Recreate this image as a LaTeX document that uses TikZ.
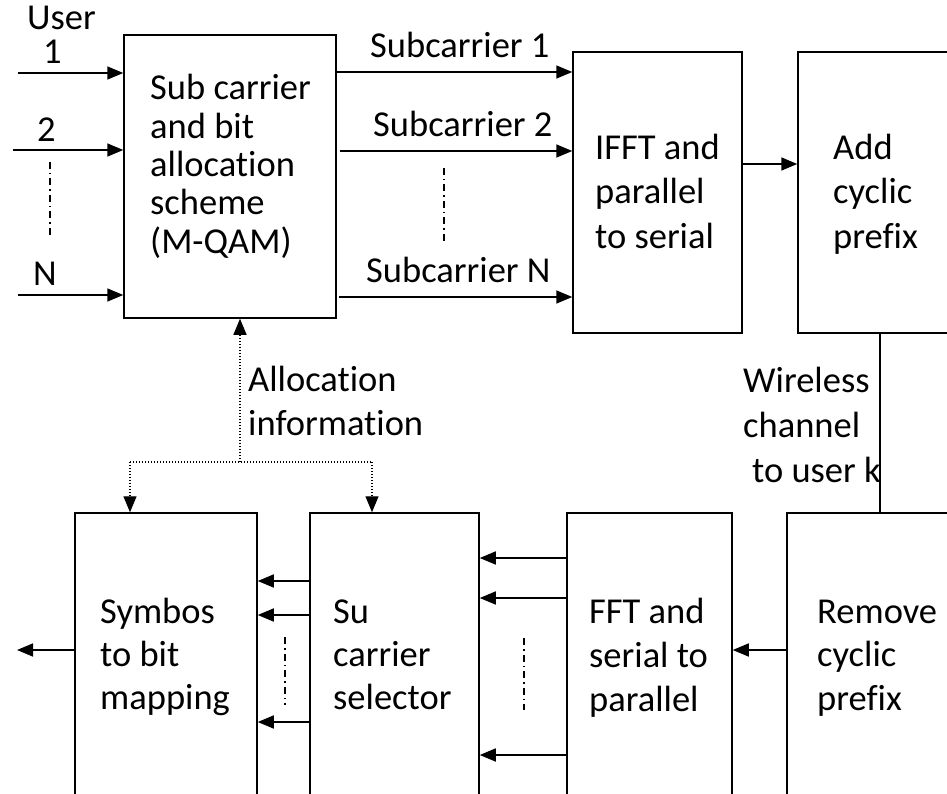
\documentclass[tikz,border=0pt]{standalone}
\usepackage{fontspec}
\setmainfont{Carlito}[RawFeature={-liga}]
\usetikzlibrary{arrows.meta}
\begin{document}
\begin{tikzpicture}[x=1pt,y=-1pt,
  box/.style={draw,line width=1.5pt,rectangle,inner sep=0pt},
  lbl/.style={anchor=base west,inner sep=0pt,font=\fontsize{36.5}{44}\selectfont},
  arr/.style={line width=1.6pt,-{Triangle[length=16pt,width=13pt]}},
  plain/.style={line width=1.5pt},
  dotl/.style={line width=1.3pt,dash pattern=on 1.3pt off 1.7pt},
  dotarr/.style={dotl,-{Triangle[length=16pt,width=13pt]}},
  dashdot/.style={line width=1.1pt,dash pattern=on 7pt off 4pt on 1.5pt off 4pt}]
\useasboundingbox (0,0) rectangle (947,794);
\fill[white] (0,0) rectangle (947,794);

% boxes
\node[box,minimum width=212pt,minimum height=283pt] (alloc) at (230,176.5) {};
\node[box,minimum width=169pt,minimum height=281pt] (ifft) at (657.5,192.5) {};
\node[box,minimum width=182pt,minimum height=281pt] (addcp) at (889,192.5) {};
\node[box,minimum width=193pt,minimum height=307pt] (rmcp) at (883.5,666.5) {};
\node[box,minimum width=165pt,minimum height=307pt] (fft) at (649.5,666.5) {};
\node[box,minimum width=169pt,minimum height=307pt] (sel) at (394.5,666.5) {};
\node[box,minimum width=182pt,minimum height=307pt] (sym) at (166,666.5) {};

% box texts
\foreach \t [count=\i] in {Sub carrier,and bit,allocation,scheme,{(M-QAM)}}
  \node[lbl] (alloc-t\i) at (150,{100+38.3*(\i-1)}) {\t};
\foreach \t [count=\i] in {IFFT and,parallel,to serial}
  \node[lbl] (ifft-t\i) at (595,{160+44*(\i-1)}) {\t};
\foreach \t [count=\i] in {Add,cyclic,prefix}
  \node[lbl] (addcp-t\i) at (833,{160+44*(\i-1)}) {\t};
\foreach \t [count=\i] in {Symbos,to bit,mapping}
  \node[lbl] (sym-t\i) at (100,{623+43*(\i-1)}) {\t};
\foreach \t [count=\i] in {Su,carrier,selector}
  \node[lbl] (sel-t\i) at (333,{623+43*(\i-1)}) {\t};
\foreach \t [count=\i] in {FFT and,serial to,parallel}
  \node[lbl] (fft-t\i) at (589,{623+44*(\i-1)}) {\t};
\foreach \t [count=\i] in {Remove,cyclic,prefix}
  \node[lbl] (rmcp-t\i) at (817,{623+43.5*(\i-1)}) {\t};

% other labels
\node[lbl] (user) at (27,30) {User};
\node[lbl] (u1) at (43,64) {1};
\node[lbl] (u2) at (37,142) {2};
\node[lbl] (uN) at (33,285) {N};
\node[lbl] (sc1) at (370,58) {Subcarrier 1};
\node[lbl] (sc2) at (373,137) {Subcarrier 2};
\node[lbl] (scN) at (366,282) {Subcarrier N};
\node[lbl] (ai1) at (248,391) {Allocation};
\node[lbl] (ai2) at (248,435) {information};
\node[lbl] (wc1) at (743,392) {Wireless};
\node[lbl] (wc2) at (743,437) {channel};
\node[lbl] (wc3) at (752,482) {to user k};

% input arrows
\coordinate (in1) at (18,73);
\coordinate (in2) at (13,150);
\coordinate (inN) at (18,295);
\draw[arr] (in1) -- (in1 -| alloc.west);
\draw[arr] (in2) -- (in2 -| alloc.west);
\draw[arr] (inN) -- (inN -| alloc.west);
\coordinate (dd1a) at (50,162);
\coordinate (dd1b) at (50,235);
\draw[dashdot] (dd1a) -- (dd1b);

% subcarrier arrows
\coordinate (s1) at (450,72);
\coordinate (s2) at (450,151);
\coordinate (sN) at (450,297);
\draw[arr] (alloc.east |- s1) -- (s1 -| ifft.west);
\draw[arr] ([xshift=3pt]alloc.east |- s2) -- (s2 -| ifft.west);
\draw[arr] ([xshift=2pt]alloc.east |- sN) -- (sN -| ifft.west);
\coordinate (dd2a) at (444,168);
\coordinate (dd2b) at (444,242);
\draw[dashdot] (dd2a) -- (dd2b);

% IFFT -> add CP
\coordinate (m1) at (770,164);
\draw[arr] (ifft.east |- m1) -- (m1 -| addcp.west);

% channel
\coordinate (ch) at (880,420);
\draw[plain] (addcp.south -| ch) -- (rmcp.north -| ch);

% feedback (dotted)
\coordinate (fb) at (240,462);
\coordinate (fbl) at (130,462);
\coordinate (fbr) at (372,462);
\draw[dotarr] (fb) -- (fb |- alloc.south);
\draw[dotl] (fbl) -- (fbr);
\draw[dotarr] (fbl) -- (fbl |- sym.north);
\draw[dotarr] (fbr) -- (fbr |- sel.north);

% receiver arrows
\coordinate (r0) at (760,650);
\draw[arr] (rmcp.west |- r0) -- (r0 -| fft.east);
\foreach \yy/\n in {558/1,598/2,755/3}{
  \coordinate (f\n) at (520,\yy);
  \draw[arr] (fft.west |- f\n) -- (f\n -| sel.east);
}
\coordinate (dd3a) at (524,638);
\coordinate (dd3b) at (524,710);
\draw[dashdot] (dd3a) -- (dd3b);
\foreach \yy/\n in {581/1,615/2,722/3}{
  \coordinate (g\n) at (280,\yy);
  \draw[arr] (sel.west |- g\n) -- (g\n -| sym.east);
}
\coordinate (dd4a) at (285,637);
\coordinate (dd4b) at (285,705);
\draw[dashdot] (dd4a) -- (dd4b);

% output
\coordinate (out) at (17,650);
\draw[arr] (sym.west |- out) -- (out);
\end{tikzpicture}
\end{document}
